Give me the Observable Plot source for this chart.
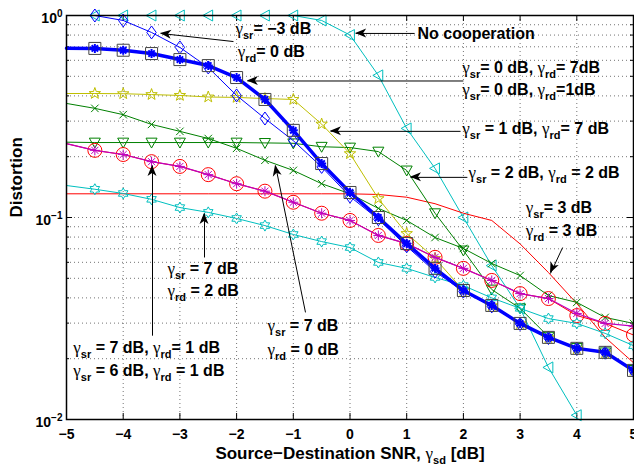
<!DOCTYPE html>
<html><head><meta charset="utf-8">
<script src="https://cdn.jsdelivr.net/npm/d3@7"></script>
<script src="https://cdn.jsdelivr.net/npm/@observablehq/plot@0.6"></script>
<style>body{margin:0;background:#fff}</style>
</head><body><div id="chart"></div>
<script>
// ---------- data ----------
const snr = [-5,-4.5,-4,-3.5,-3,-2.5,-2,-1.5,-1,-0.5,0,0.5,1,1.5,2,2.5,3,3.5,4,4.5,5];
const noCooperation = [1.0,1.0,1.0,1.0,1.0,1.0,1.0,1.0,1.0,0.945,0.80,0.505,0.276,0.175,0.100,0.0578,0.0355,0.0181,0.0105,null,null];
const sr0rd7   = [0.688,0.687,0.673,0.648,0.605,0.565,0.493,0.384,0.27,0.185,0.133,0.1,0.0743,0.056,0.0435,0.0367,0.0299,0.0255,0.0225,0.0215,0.0175];
const sr0rd1   = [0.688,0.687,0.673,0.648,0.605,0.565,0.493,0.384,0.27,0.185,0.133,0.1,0.0743,0.056,0.0435,0.0367,0.0299,0.0255,0.0225,0.0215,0.0175];
const srm3rd0  = [1.0,1.0,0.945,0.824,0.695,0.553,0.402,0.309,0.24,0.178,0.127,0.098,0.072,0.054,0.043,0.0363,0.0297,0.0253,0.0224,0.0214,0.0174];
const sr1rd7   = [0.411,0.411,0.41,0.406,0.402,0.395,0.393,0.388,0.384,0.29,0.207,0.124,0.0833,0.0627,0.0435,0.0366,0.0298,0.0254,0.0224,0.0214,0.0175];
const sr2rd2   = [0.236,0.235,0.235,0.235,0.235,0.235,0.235,0.234,0.233,0.224,0.222,0.212,0.171,0.105,0.0687,0.044,0.0355,0.0257,0.0226,0.0215,0.0176];
const sr7rd0   = [0.367,0.347,0.323,0.289,0.267,0.246,0.22,0.192,0.171,0.147,0.131,0.111,0.0967,0.0796,0.0703,0.0592,0.0516,0.0411,0.038,0.032,0.0299];
const sr3rd3   = [0.131,0.131,0.131,0.131,0.131,0.131,0.131,0.131,0.131,0.131,0.131,0.13,0.126,0.117,0.105,0.0967,0.074,0.0534,0.0375,0.0255,0.0191];
const sr7rd1   = [0.232,0.215,0.205,0.189,0.179,0.163,0.147,0.135,0.119,0.105,0.0967,0.0815,0.0743,0.0635,0.056,0.0488,0.042,0.0397,0.0335,0.0299,0.029];
const sr6rd1   = [0.232,0.215,0.205,0.189,0.179,0.163,0.147,0.135,0.119,0.105,0.0967,0.0815,0.0743,0.0635,0.056,0.0488,0.042,0.0397,0.0327,0.0299,0.0262];
const sr7rd2   = [0.144,0.138,0.1315,0.123,0.112,0.106,0.0989,0.0912,0.0824,0.076,0.071,0.0599,0.056,0.0505,0.046,0.040,0.0355,0.0316,0.0299,0.0267,0.0232];

const xTicks = [-5,-4,-3,-2,-1,0,1,2,3,4,5];
const yTicks = [0.01,0.1,1];
const yMinorTicks = [0.02,0.03,0.04,0.05,0.06,0.07,0.08,0.09,0.2,0.3,0.4,0.5,0.6,0.7,0.8,0.9];

const xLabel = "Source−Destination SNR, γ_{sd} [dB]";
const yLabel = "Distortion";

const annotations = [
  {x: 1.19,  y: 0.815,  text: "No cooperation"},
  {x: -2.02, y: 0.862,  text: "γ_{sr}= −3 dB"},
  {x: -1.98, y: 0.663,  text: "γ_{rd}= 0 dB"},
  {x: 1.98,  y: 0.553,  text: "γ_{sr}= 0 dB, γ_{rd}= 7dB"},
  {x: 1.98,  y: 0.430,  text: "γ_{sr}= 0 dB, γ_{rd}=1dB"},
  {x: 1.98,  y: 0.276,  text: "γ_{sr} = 1 dB, γ_{rd}= 7 dB"},
  {x: 2.09,  y: 0.167,  text: "γ_{sr} = 2 dB, γ_{rd} = 2 dB"},
  {x: 3.10,  y: 0.111,  text: "γ_{sr}= 3 dB"},
  {x: 3.10,  y: 0.0862, text: "γ_{rd} = 3 dB"},
  {x: -3.22, y: 0.0559, text: "γ_{sr} = 7 dB"},
  {x: -3.22, y: 0.0435, text: "γ_{rd} = 2 dB"},
  {x: -4.88, y: 0.0227, text: "γ_{sr} = 7 dB, γ_{rd}= 1 dB"},
  {x: -4.88, y: 0.0175, text: "γ_{sr} = 6 dB, γ_{rd} = 1 dB"},
  {x: -1.455,y: 0.0292, text: "γ_{sr} = 7 dB"},
  {x: -1.455,y: 0.0222, text: "γ_{rd} = 0 dB"}
];
const arrows = [
  {x1: 1.14,  y1: 0.815,  x2: 0.10,  y2: 0.815},
  {x1: -2.055,y1: 0.743,  x2: -3.34, y2: 0.815},
  {x1: 2.0,   y1: 0.474,  x2: -1.81, y2: 0.474},
  {x1: 1.95,  y1: 0.267,  x2: -0.344,y2: 0.267},
  {x1: 2.07,  y1: 0.158,  x2: 1.067, y2: 0.158},
  {x1: 3.75,  y1: 0.0710, x2: 3.536, y2: 0.0528},
  {x1: -2.566,y1: 0.0634, x2: -2.566,y2: 0.1047},
  {x1: -3.483,y1: 0.026,  x2: -3.483,y2: 0.181},
  {x1: -0.785,y1: 0.0339, x2: -1.314,y2: 0.181}
];

// ---------- custom MATLAB-like markers ----------
const sym = fn => ({draw(c, size) { fn(c, Math.sqrt(size / Math.PI)); }});
const triLeft = sym((c, r) => { c.moveTo(-r, 0); c.lineTo(0.8*r, -r); c.lineTo(0.8*r, r); c.closePath(); });
const triDown = sym((c, r) => { c.moveTo(-r, -0.8*r); c.lineTo(r, -0.8*r); c.lineTo(0, r); c.closePath(); });
const diamond = sym((c, r) => { c.moveTo(0, -r); c.lineTo(0.72*r, 0); c.lineTo(0, r); c.lineTo(-0.72*r, 0); c.closePath(); });
const square = sym((c, r) => { c.moveTo(-r, -r); c.lineTo(r, -r); c.lineTo(r, r); c.lineTo(-r, r); c.closePath(); });
const starN = (n, k) => sym((c, r) => {
  for (let i = 0; i < 2*n; i++) {
    const a = -Math.PI/2 + i*Math.PI/n, rr = i % 2 ? r*k : r;
    i ? c.lineTo(rr*Math.cos(a), rr*Math.sin(a)) : c.moveTo(rr*Math.cos(a), rr*Math.sin(a));
  }
  c.closePath();
});
const pentagram = starN(5, 0.40);
const hexagram = starN(6, 0.577);
const asterisk = sym((c, r) => { const d = 0.707*r;
  c.moveTo(-r,0); c.lineTo(r,0); c.moveTo(0,-r); c.lineTo(0,r);
  c.moveTo(-d,-d); c.lineTo(d,d); c.moveTo(-d,d); c.lineTo(d,-d); });
const cross = sym((c, r) => { const d = 0.75*r; c.moveTo(-d,-d); c.lineTo(d,d); c.moveTo(-d,d); c.lineTo(d,-d); });
const circle = sym((c, r) => { c.moveTo(r, 0); c.arc(0, 0, r, 0, 2*Math.PI); });

// ---------- series specs ----------
const CYAN = "#00BFBF", BLUE = "#0000FF", YEL = "#BFBF00", GRN = "#008000", RED = "#FF0000", MAG = "#BF00BF";
const series = [
  {values: noCooperation, line: CYAN, w: 1, marks: [{symbol: triLeft, r: 5.5, stroke: CYAN}]},
  {values: sr3rd3, line: RED, w: 1, marks: []},
  {values: sr2rd2, line: GRN, w: 1, marks: [{symbol: triDown, r: 5.5, stroke: GRN}]},
  {values: sr7rd0, line: GRN, w: 1, marks: [{symbol: cross, r: 5, stroke: GRN}]},
  {values: sr1rd7, line: YEL, w: 1, marks: [{symbol: pentagram, r: 6, stroke: YEL}]},
  {values: sr6rd1, line: RED, w: 1, marks: [{symbol: circle, r: 7, stroke: RED}]},
  {values: sr7rd1, line: MAG, w: 1.2, marks: [{symbol: asterisk, r: 5, stroke: MAG}]},
  {values: sr7rd2, line: CYAN, w: 1, marks: [{symbol: hexagram, r: 5.5, stroke: CYAN}]},
  {values: srm3rd0, line: BLUE, w: 1, marks: [{symbol: diamond, r: 6.5, stroke: BLUE}]},
  {values: sr0rd1, line: BLUE, w: 3.5, marks: [{symbol: asterisk, r: 4.5, stroke: BLUE, sw: 2}]},
  {values: sr0rd7, line: BLUE, w: 1.5, marks: [{symbol: square, r: 6, stroke: "#444"}]}
];

const seriesMarks = series.flatMap(s => {
  const rows = snr.map((x, i) => ({x, y: s.values[i]})).filter(d => d.y != null);
  return [
    Plot.line(rows, {x: "x", y: "y", stroke: s.line, strokeWidth: s.w}),
    ...s.marks.map(m => Plot.dot(rows.filter(d => d.x > -5), {x: "x", y: "y", symbol: m.symbol, r: m.r, stroke: m.stroke, fill: "none", strokeWidth: m.sw || 1}))
  ];
});

const PW = 634 - 66 - 1, PH = 470 - 15 - 51;
const fmtX = d => d < 0 ? "−" + (-d) : String(d);
const fmtY = d => { const e = Math.round(Math.log10(d)); return "10^{" + (e < 0 ? "−" + (-e) : e) + "}"; };

const plot = Plot.plot({
  width: 634, height: 470,
  marginLeft: 66, marginRight: 1, marginTop: 15, marginBottom: 51,
  x: {domain: [-5, 5], label: null},
  y: {type: "log", domain: [0.01, 1], label: null},
  style: {fontFamily: "'Liberation Sans', Arial, Helvetica, sans-serif", fontSize: "14px", fontWeight: "bold", background: "white", color: "black"},
  marks: [
    Plot.ruleX(xTicks.slice(1, -1), {stroke: "#000", strokeOpacity: 0.55, strokeDasharray: "1,3"}),
    Plot.ruleY([...yMinorTicks, 0.1], {stroke: "#000", strokeOpacity: 0.55, strokeDasharray: "1,3"}),
    Plot.ruleX(xTicks, {insetTop: PH - 6, stroke: "black"}),
    Plot.ruleX(xTicks, {insetBottom: PH - 6, stroke: "black"}),
    Plot.ruleY(yTicks, {insetRight: PW - 6, stroke: "black"}),
    Plot.ruleY(yMinorTicks, {insetRight: PW - 3, stroke: "black"}),
    Plot.ruleY(yTicks, {insetLeft: PW - 6, stroke: "black"}),
    Plot.ruleY(yMinorTicks, {insetLeft: PW - 3, stroke: "black"}),
    ...seriesMarks,
    Plot.link(arrows, {x1: "x1", y1: "y1", x2: "x2", y2: "y2", stroke: "black", strokeWidth: 1}),
    Plot.text(annotations, {x: "x", y: "y", text: "text", textAnchor: "start", fontSize: 16, fontWeight: "bold", fill: "black"}),
    Plot.frame({stroke: "black", strokeWidth: 1.5}),
    Plot.axisX({ticks: xTicks, tickFormat: fmtX, tickSize: 0, tickPadding: 10, label: null, fontSize: 14}),
    Plot.axisY({ticks: yTicks, tickFormat: fmtY, tickSize: 0, tickPadding: 4, dy: 3, label: null, fontSize: 14}),
    Plot.text([xLabel], {frameAnchor: "bottom", dy: 39, text: d => d, fontSize: 17, fontWeight: "bold"}),
    Plot.text([yLabel], {frameAnchor: "left", dx: -50, rotate: -90, text: d => d, fontSize: 17, fontWeight: "bold"})
  ]
});

// rich text: subscripts/superscripts and Symbol-like gamma
function richify(root) {
  root.querySelectorAll("text").forEach(t => {
    const s = t.textContent;
    if (!/[_^]\{|γ/.test(s)) return;
    const parts = s.split(/([_^]\{[^}]*\}|γ)/).filter(p => p);
    while (t.firstChild) t.removeChild(t.firstChild);
    let off = 0;
    for (const p of parts) {
      const ts = document.createElementNS("http://www.w3.org/2000/svg", "tspan");
      let target = 0, txt = p;
      if (p.startsWith("_{")) { target = 5; txt = p.slice(2, -1); ts.setAttribute("font-size", 11); }
      else if (p.startsWith("^{")) { target = -6; txt = p.slice(2, -1); ts.setAttribute("font-size", 10); }
      else if (p === "γ") { ts.setAttribute("font-weight", "normal"); ts.setAttribute("font-family", "'Liberation Serif', 'DejaVu Serif', serif"); ts.setAttribute("font-size", 17); }
      if (target !== off) { ts.setAttribute("dy", target - off); off = target; }
      ts.textContent = txt;
      t.appendChild(ts);
    }
  });
}
richify(plot);

// filled arrowheads at the arrow tips, positioned through the plot's scales
const sx = plot.scale("x"), sy = plot.scale("y");
const g = d3.select(plot).append("g").attr("aria-label", "arrowheads");
for (const a of arrows) {
  const x1 = sx.apply(a.x1), y1 = sy.apply(a.y1), x2 = sx.apply(a.x2), y2 = sy.apply(a.y2);
  const ang = Math.atan2(y2 - y1, x2 - x1), ux = Math.cos(ang), uy = Math.sin(ang), px = -uy, py = ux;
  const L = 11, W = 4.5, N = 8;
  const pts = [[x2, y2], [x2 - L*ux + W*px, y2 - L*uy + W*py], [x2 - N*ux, y2 - N*uy], [x2 - L*ux - W*px, y2 - L*uy - W*py]];
  g.append("polygon").attr("points", pts.map(p => p.join(",")).join(" ")).attr("fill", "black");
}

document.getElementById("chart").appendChild(plot);
</script>
</body></html>
